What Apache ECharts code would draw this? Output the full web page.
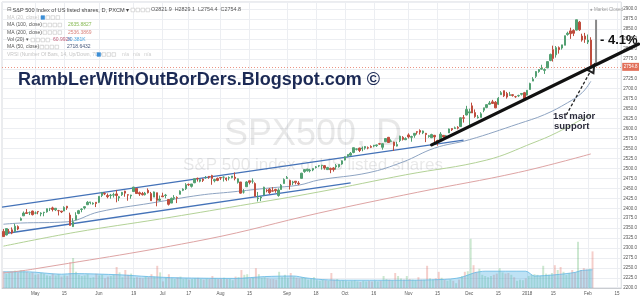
<!DOCTYPE html>
<html><head><meta charset="utf-8">
<script src="https://cdn.jsdelivr.net/npm/echarts/dist/echarts.min.js"></script>
<style>html,body{margin:0;padding:0;background:#fff}#c{width:640px;height:299px}</style>
</head><body><div id="c"></div>
<script>
// ---- trading days (typed per month) ----
const tradingMonths = [
  ['2017-04',[13,17,18,19,20,21,24,25,26,27,28]],
  ['2017-05',[1,2,3,4,5,8,9,10,11,12,15,16,17,18,19,22,23,24,25,26,30,31]],
  ['2017-06',[1,2,5,6,7,8,9,12,13,14,15,16,19,20,21,22,23,26,27,28,29,30]],
  ['2017-07',[3,5,6,7,10,11,12,13,14,17,18,19,20,21,24,25,26,27,28,31]],
  ['2017-08',[1,2,3,4,7,8,9,10,11,14,15,16,17,18,21,22,23,24,25,28,29,30,31]],
  ['2017-09',[1,5,6,7,8,11,12,13,14,15,18,19,20,21,22,25,26,27,28,29]],
  ['2017-10',[2,3,4,5,6,9,10,11,12,13,16,17,18,19,20,23,24,25,26,27,30,31]],
  ['2017-11',[1,2,3,6,7,8,9,10,13,14,15,16,17,20,21,22,24,27,28,29,30]],
  ['2017-12',[1,4,5,6,7,8,11,12,13,14,15,18,19,20,21,22,26,27,28,29]],
  ['2018-01',[2,3,4,5,8,9,10,11,12,16,17,18,19,22,23,24,25,26,29,30,31]],
  ['2018-02',[1,2]]
];
const futureMonths = [['2018-02',[5,6,7,8,9,12,13,14,15,16]]];

const tickDates = ['2017-05-01','2017-05-15','2017-06-01','2017-06-19','2017-07-03','2017-07-17','2017-08-01','2017-08-15','2017-09-01','2017-09-18','2017-10-02','2017-10-16','2017-11-01','2017-11-15','2017-12-01','2017-12-15','2018-01-02','2018-01-16','2018-02-01','2018-02-15'];
const tickTexts = ['May','15','Jun','19','Jul','17','Aug','15','Sep','18','Oct','16','Nov','15','Dec','15','2018','15','Feb','15'];

// ---- OHLC + volume (K) ----
const open = [
 2342,2333,2342,2346,2342,2354,2370,2381,2389,2389,2393,
 2388,2392,2386,2389,2391,2399,2401,2396,2394,2393,2393,2405,2383,2354,2371,2387,2397,2401,2409,2414,2411,2415,
 2415,2432,2437,2432,2432,2433,2436,2426,2434,2443,2434,2431,2442,2450,2439,2437,2434,2445,2437,2428,2439,2420,
 2431,2432,2422,2413,2425,2427,2435,2445,2449,2460,2455,2464,2475,2468,2473,2477,2480,2482,2469,2475,
 2477,2478,2476,2476,2477,2478,2465,2466,2441,2454,2469,2468,2462,2424,2426,2433,2445,2448,2444,2447,2432,2447,2462,
 2475,2470,2464,2468,2463,2475,2492,2494,2494,2496,2502,2506,2507,2507,2497,2500,2501,2504,2504,2511,
 2521,2530,2533,2540,2548,2551,2549,2551,2552,2555,2556,2557,2562,2553,2567,2578,2568,2566,2556,2570,2578,2572,
 2584,2578,2583,2592,2595,2589,2588,2580,2577,2583,2570,2573,2583,2580,2589,2600,2600,2603,2605,2627,2634,
 2639,2657,2640,2627,2628,2646,2653,2661,2667,2666,2661,2685,2695,2688,2683,2685,2680,2682,2686,2690,
 2684,2698,2719,2731,2743,2749,2746,2752,2771,2798,2785,2803,2802,2809,2836,2845,2846,2847,2867,2832,2832,
 2817,2821.9];
const high = [
 2348,2349,2348,2352,2361,2357,2377,2392,2398,2392,2394,
 2392,2392,2390,2391,2399,2401,2404,2400,2396,2393,2405,2406,2389,2375,2390,2396,2400,2405,2418,2416,2415,2415,
 2430,2441,2440,2437,2436,2439,2446,2431,2441,2444,2435,2434,2454,2450,2442,2441,2441,2450,2441,2442,2439,2432,
 2439,2436,2423,2427,2433,2430,2445,2450,2463,2462,2461,2474,2477,2473,2475,2481,2481,2484,2474,2477,
 2478,2480,2477,2480,2481,2490,2475,2466,2448,2468,2469,2475,2465,2441,2431,2454,2448,2451,2453,2449,2450,2461,2475,
 2481,2472,2469,2468,2468,2489,2497,2499,2499,2500,2506,2508,2509,2508,2504,2502,2503,2511,2510,2520,
 2530,2535,2541,2552,2550,2552,2555,2556,2555,2558,2559,2560,2564,2563,2576,2579,2573,2567,2567,2582,2581,2578,
 2588,2582,2588,2593,2598,2595,2589,2584,2587,2584,2572,2591,2583,2584,2600,2601,2605,2606,2628,2634,2657,
 2650,2665,2648,2634,2641,2652,2661,2669,2672,2669,2679,2694,2695,2692,2692,2686,2682,2685,2688,2692,
 2696,2715,2729,2744,2749,2760,2751,2768,2788,2808,2807,2806,2810,2833,2843,2853,2849,2873,2870,2838,2840,
 2836,2829.1];
const low = [
 2329,2332,2337,2335,2340,2345,2369,2381,2386,2383,2382,
 2385,2385,2380,2380,2389,2393,2392,2393,2382,2388,2393,2396,2357,2353,2370,2385,2390,2397,2408,2410,2409,2403,
 2413,2428,2433,2425,2424,2427,2415,2418,2431,2429,2419,2424,2441,2437,2431,2432,2432,2437,2419,2428,2405,2418,
 2428,2425,2407,2413,2421,2413,2435,2443,2446,2456,2452,2463,2467,2465,2466,2474,2474,2459,2465,2468,
 2471,2467,2468,2470,2475,2470,2462,2437,2437,2454,2460,2462,2430,2417,2418,2433,2440,2436,2442,2439,2429,2447,2462,
 2474,2447,2458,2460,2458,2475,2489,2492,2490,2493,2500,2503,2497,2497,2496,2488,2492,2497,2502,2509,
 2520,2528,2532,2538,2545,2541,2543,2547,2548,2551,2553,2554,2559,2547,2566,2564,2566,2544,2555,2566,2570,2571,
 2575,2567,2577,2585,2585,2586,2566,2577,2576,2566,2557,2572,2577,2577,2589,2594,2599,2598,2604,2615,2633,
 2605,2639,2627,2625,2628,2641,2651,2660,2662,2651,2659,2685,2679,2675,2682,2680,2677,2679,2683,2673,
 2683,2698,2719,2727,2740,2748,2737,2752,2769,2768,2778,2788,2798,2809,2833,2825,2832,2846,2845,2818,2815,
 2812,2754.4];
const close = [
 2329,2349,2342,2338,2355,2348,2374,2388,2387,2389,2384,
 2388,2391,2388,2390,2399,2399,2397,2400,2394,2391,2402,2401,2357,2366,2382,2394,2398,2404,2415,2416,2413,2412,
 2430,2439,2436,2429,2433,2434,2432,2429,2440,2438,2433,2433,2453,2437,2436,2434,2438,2439,2419,2441,2420,2423,
 2429,2433,2410,2425,2427,2426,2443,2448,2459,2459,2461,2474,2474,2472,2470,2477,2478,2475,2472,2470,
 2476,2478,2472,2477,2481,2475,2474,2438,2441,2466,2465,2468,2430,2426,2428,2453,2444,2439,2443,2444,2446,2458,2472,
 2477,2458,2466,2465,2461,2488,2497,2498,2496,2500,2504,2507,2508,2501,2502,2497,2497,2507,2510,2519,
 2529,2535,2538,2552,2549,2545,2551,2555,2551,2553,2558,2559,2561,2562,2575,2565,2569,2557,2560,2581,2573,2575,
 2579,2580,2588,2591,2591,2594,2585,2582,2585,2579,2565,2586,2579,2582,2599,2597,2602,2601,2627,2626,2648,
 2642,2639,2630,2629,2637,2652,2660,2664,2663,2652,2676,2690,2682,2679,2685,2683,2680,2683,2688,2674,
 2696,2713,2724,2743,2748,2751,2748,2768,2786,2776,2803,2798,2810,2833,2839,2838,2839,2873,2848,2822,2824,
 2822,2754.8];
const volume = [
 28,24,26,27,29,26,30,28,27,25,26,
 22,23,25,24,21,20,24,21,23,19,21,20,43,50,27,22,20,21,23,17,18,24,
 21,22,16,19,20,22,35,26,18,30,22,24,17,18,17,16,19,18,23,19,37,26,
 11,17,23,16,15,18,19,15,16,14,15,16,17,15,14,16,15,20,16,15,
 16,17,15,15,13,19,18,30,22,23,16,17,33,23,17,18,16,15,15,14,27,18,22,
 17,25,19,17,16,18,17,14,15,18,13,12,14,13,12,25,14,15,12,13,
 12,11,12,13,11,10,12,11,12,11,12,11,12,20,15,14,13,25,20,16,14,20,
 15,14,13,18,14,14,37,16,14,16,27,17,14,12,14,12,8,14,20,27,28,
 82,38,27,32,22,20,18,20,22,24,33,26,24,25,22,18,12,14,13,16,
 20,22,23,22,20,37,24,22,25,38,30,35,27,22,25,30,26,77,30,33,31,
 32,61];

// ---- indicator readings (date, value) ----
const ma50Pts = [['2017-04-13',2360],['2017-04-24',2363],['2017-05-16',2366],['2017-06-01',2391],['2017-06-27',2413],['2017-07-21',2433],['2017-08-07',2441],['2017-08-24',2451],['2017-09-08',2458],['2017-09-19',2471],['2017-10-12',2489],['2017-10-30',2516],['2017-11-14',2551],['2017-12-01',2572],['2017-12-27',2612],['2018-01-10',2635],['2018-01-23',2665],['2018-01-30',2690],['2018-02-02',2718.6]];
const ma100Pts = [['2017-04-13',2305],['2017-05-19',2340],['2017-06-30',2373],['2017-08-10',2407],['2017-09-19',2441],['2017-10-31',2484],['2017-12-11',2521],['2018-01-04',2564],['2018-01-17',2589],['2018-02-02',2635.9]];
const ma200Pts = [['2017-04-13',2238],['2017-04-28',2247],['2017-07-25',2322],['2017-09-19',2388],['2017-11-06',2440],['2017-12-27',2490],['2018-02-02',2536.4]];
const volMaPts = [['2017-04-13',27],['2017-04-26',27],['2017-05-12',23],['2017-05-18',24],['2017-06-12',22],['2017-06-26',19],['2017-07-11',17],['2017-08-08',16],['2017-08-22',19],['2017-09-06',20],['2017-09-12',17],['2017-09-20',14],['2017-10-02',13],['2017-11-01',13],['2017-11-15',14],['2017-11-21',15],['2017-11-28',18],['2017-12-04',25],['2017-12-08',28],['2017-12-29',28],['2018-01-04',20],['2018-01-16',22],['2018-01-25',26],['2018-01-29',29],['2018-02-02',30.4]];

// ---- drawn trendlines (bar index, price) ----
const upperChannel = [[-0.5,2403],[159,2571]];
const lowerChannel = [[-0.5,2335.5],[120,2463.5]];
const supportLine = [[148,2559],[219.5,2812]];
const dropMeasure = [[204.8,2873],[204.8,2757]];
const supportArrow = [[194.5,2634],[203.5,2752]];
const lastPrice = 2754.8;

// ---- build ----
function expand(list){const out=[];list.forEach(([m,ds])=>ds.forEach(d=>out.push(m+'-'+String(d).padStart(2,'0'))));return out;}
const dates = expand(tradingMonths);
const axisDates = dates.concat(expand(futureMonths));
const idx = d => axisDates.indexOf(d);
const tickMap = new Map(tickDates.map((d,i)=>[idx(d),tickTexts[i]]));
const pts = arr => arr.map(([d,v])=>[idx(d),v]);

const UP='#53a072', DN='#bf4d3d';
const candleData = dates.map((d,i)=>[open[i],close[i],low[i],high[i]]);
const volData = volume.map((v,i)=>({value:v,itemStyle:{color: close[i]>=open[i]?'rgba(95,185,110,0.32)':'rgba(225,110,100,0.34)'}}));

const FONT='"Liberation Sans", Arial, sans-serif';
const gridCol='#eceef2';
const xMin=-0.5, xMax=axisDates.length-0.5;

const graphic=[];
function txt(x,y,text,fill,size,opts){graphic.push({type:'text',x:x,y:y,z:50,silent:true,style:{text:text,fill:fill,font:(opts&&opts.bold?'bold ':'')+size+'px '+((opts&&opts.family)||FONT),textAlign:(opts&&opts.align)||'left',textVerticalAlign:'middle'}});}
function boxes(x,y,blue){for(let k=0;k<4;k++){graphic.push({type:'rect',z:50,silent:true,shape:{x:x+k*5,y:y-1.8,width:3.6,height:3.6},style:{fill:(blue&&k===0)?'#3d8fd6':'#fff',stroke:(blue&&k===0)?'#3d8fd6':'#c4c4c4',lineWidth:0.6}});}}

// watermark
graphic.push({type:'text',x:313,y:135,z:1,silent:true,style:{text:'SPX500, D',fill:'rgba(0,0,0,0.09)',font:'36px '+FONT,textAlign:'center',textVerticalAlign:'middle'}});
graphic.push({type:'text',x:313,y:165,z:1,silent:true,style:{text:'S&P 500 index of US listed shares',fill:'rgba(0,0,0,0.09)',font:'17px '+FONT,textAlign:'center',textVerticalAlign:'middle'}});

// header legend
txt(7,10,'⊟','#666',5.5,{family:'"DejaVu Sans", sans-serif'});
txt(12.5,10,'S&P 500 Index of US listed shares, D, PXCM ▾','#444',5.6);
boxes(131,10,false);
txt(151,10,'O2821.9  H2829.1  L2754.4  C2754.8','#555',5.4);
const legendRows=[
 {y:17.5,label:'MA (20, close) ▾',faded:true,bx:41,blue:true,vals:[]},
 {y:25,label:'MA (100, close) ▾',bx:43,vals:[['2635.8827','#86b953',68]]},
 {y:32.5,label:'MA (200, close) ▾',bx:43,vals:[['2536.3869','#d9837c',68]]},
 {y:40,label:'Vol (20) ▾',bx:31,vals:[['60.992K','#c0607a',53],['30.381K','#4aa3df',67]]},
 {y:47,label:'MA (50, close) ▾',bx:40,vals:[['2718.6432','#44567a',67]]},
 {y:54.5,label:'VRSI (Number Of Bars, 14, Up/Down, 70) ▾',faded:true,bx:97,blue:true,vals:[['n/a   n/a   n/a','#cdcdcd',122]]}
];
legendRows.forEach(r=>{txt(7,r.y,r.label,r.faded?'#c6c6c6':'#555',5);boxes(r.bx,r.y,r.blue);r.vals.forEach(v=>txt(v[2],r.y,v[0],v[1],5));});
txt(590,10,'● Market Closed','#a0a0a0',4.5);

// annotations
txt(18,80,'RambLerWithOutBorDers.Blogspot.com ©','#1c2a55',18,{bold:true});
txt(600,40,'- 4.1%','#111',13,{bold:true});
txt(553,116,'1st major','#2b2b3b',9.5,{bold:true});
txt(554,126.5,'support','#2b2b3b',9.5,{bold:true});

const chart = echarts.init(document.getElementById('c'),null,{renderer:'canvas'});
const option = {
  animation:false,
  backgroundColor:'#fff',
  grid:[
    {left:2,right:17,top:2,bottom:11,show:true,borderColor:'#d6d9de',borderWidth:1,backgroundColor:'transparent'},
    {left:2,right:17,top:189,bottom:11}
  ],
  xAxis:[
    {type:'category',gridIndex:0,data:axisDates,boundaryGap:true,
     axisLine:{show:true,lineStyle:{color:'#c9ccd1'}},axisTick:{show:false},
     axisLabel:{interval:(i)=>tickMap.has(i),formatter:(v,i)=>tickMap.get(i)||'',fontSize:4.5,color:'#555',margin:3,fontFamily:FONT},
     splitLine:{show:true,interval:(i)=>tickMap.has(i),alignWithLabel:true,lineStyle:{color:gridCol,width:1}}},
    {type:'value',gridIndex:0,min:xMin,max:xMax,show:false},
    {type:'category',gridIndex:1,data:axisDates,boundaryGap:true,show:false},
    {type:'value',gridIndex:1,min:xMin,max:xMax,show:false}
  ],
  yAxis:[
    {type:'value',gridIndex:0,position:'right',min:2200,max:2917.5,interval:25,scale:true,
     axisLine:{show:false},axisTick:{show:false},
     axisLabel:{fontSize:4.5,color:'#555',margin:2,showMaxLabel:false,fontFamily:FONT,formatter:v=>(v%25===0?v.toFixed(1):'')},
     splitLine:{show:true,lineStyle:{color:gridCol,width:1}}},
    {type:'value',gridIndex:1,min:0,max:165,show:false}
  ],
  graphic:graphic,
  series:[
    {type:'bar',name:'Volume',xAxisIndex:2,yAxisIndex:1,data:volData,barWidth:'68%',z:1,silent:true},
    {type:'line',name:'Vol MA',xAxisIndex:3,yAxisIndex:1,data:pts(volMaPts),smooth:0.3,symbol:'none',z:1.5,silent:true,
     lineStyle:{color:'#63b8e3',width:0.8},areaStyle:{color:'rgba(85,180,230,0.55)'}},
    {type:'line',name:'MA200',xAxisIndex:1,yAxisIndex:0,data:pts(ma200Pts),smooth:0.4,symbol:'none',z:3,silent:true,lineStyle:{color:'#dea4a4',width:1}},
    {type:'line',name:'MA100',xAxisIndex:1,yAxisIndex:0,data:pts(ma100Pts),smooth:0.4,symbol:'none',z:3,silent:true,lineStyle:{color:'#b3d297',width:1}},
    {type:'line',name:'MA50',xAxisIndex:1,yAxisIndex:0,data:pts(ma50Pts),smooth:0.4,symbol:'none',z:3,silent:true,lineStyle:{color:'#8ea4c2',width:1}},
    {type:'line',name:'upper',xAxisIndex:1,yAxisIndex:0,data:upperChannel,symbol:'none',z:4,silent:true,lineStyle:{color:'#4472b8',width:1.3}},
    {type:'line',name:'lower',xAxisIndex:1,yAxisIndex:0,data:lowerChannel,symbol:'none',z:4,silent:true,lineStyle:{color:'#4472b8',width:1.3}},
    {type:'candlestick',name:'SPX500',xAxisIndex:0,yAxisIndex:0,data:candleData,barWidth:'68%',z:5,silent:true,
     itemStyle:{color:UP,color0:DN,borderColor:UP,borderColor0:DN,borderWidth:1},
     markLine:{silent:true,symbol:'none',animation:false,data:[{yAxis:lastPrice}],
       lineStyle:{color:'#eb9483',type:[1,2],width:1},
       label:{show:true,position:'end',distance:1,formatter:lastPrice.toFixed(1),color:'#fff',backgroundColor:'#e2705a',fontSize:4.5,padding:[1.5,1.5],fontFamily:FONT}}},
    {type:'line',name:'measure',xAxisIndex:1,yAxisIndex:0,data:dropMeasure,symbol:'none',z:7,clip:false,silent:true,lineStyle:{color:'#888',width:2},
     markLine:{silent:true,animation:false,symbol:['none','emptyTriangle'],symbolSize:[7,8],
       lineStyle:{color:'#222',type:[3,2],width:1.3},label:{show:false},
       data:[[{coord:supportArrow[0]},{coord:supportArrow[1]}]]}}
  ]
};
chart.setOption(option);
// support trendline extends past the plot edge: place it through the library's own axis mapping
const p1 = chart.convertToPixel({xAxisIndex:1,yAxisIndex:0}, supportLine[0]);
const p2 = chart.convertToPixel({xAxisIndex:1,yAxisIndex:0}, supportLine[1]);
graphic.push({type:'line',z:60,silent:true,shape:{x1:p1[0],y1:p1[1],x2:p2[0],y2:p2[1]},style:{stroke:'#111',lineWidth:3.2,lineCap:'round'}});
chart.setOption({graphic:graphic});
</script></body></html>
